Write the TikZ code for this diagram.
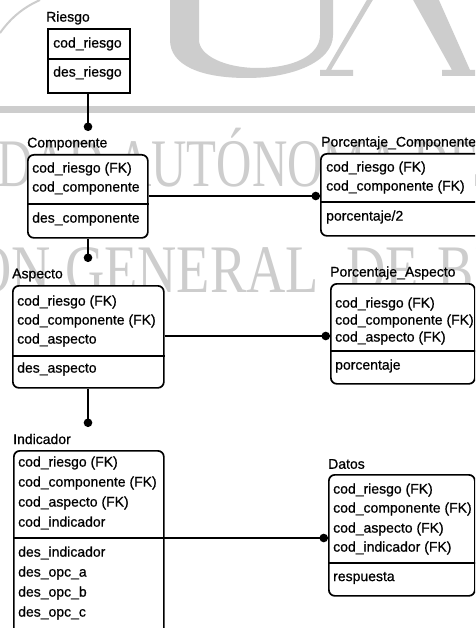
\documentclass[tikz,border=0pt]{standalone}
\usepackage{fontspec}
\setmainfont{Liberation Sans}
\newfontfamily\erfont{Liberation Sans}[RawFeature={embolden=0.7}]
\newfontfamily\wmfont{Liberation Serif}
\usetikzlibrary{arrows.meta}
\definecolor{wmgray}{RGB}{205,205,205}
\newcommand{\wmtext}[1]{\scalebox{0.72}[1]{#1}}
\newcommand{\wmtextb}[1]{\scalebox{0.8}[1]{#1}}
\begin{document}
\begin{tikzpicture}[x=1pt,y=-1pt,
  ent/.style={draw, line width=1.7pt, fill=white, rounded corners=6pt, inner sep=0pt, anchor=north west},
  entsq/.style={draw, line width=1.7pt, fill=white, inner sep=0pt, anchor=north west},
  attr/.style={anchor=west, inner sep=0pt, font=\erfont\fontsize{14}{16}\selectfont},
  ttl/.style={anchor=west, inner sep=0pt, font=\erfont\fontsize{14}{16}\selectfont},
  div/.style={line width=1.5pt},
  rel/.style={line width=1.5pt, -{Circle[length=8.5pt,width=8.5pt]}},
  wm/.style={text=wmgray, inner sep=0pt, anchor=base west, font=\wmfont\fontsize{68}{68}\selectfont},
  wmr/.style={wm, anchor=base east}
]
\useasboundingbox (0,0) rectangle (475,628);
\clip (0,0) rectangle (475,628);
\fill[white] (0,0) rectangle (475,628);

% ---- watermark ----
\draw[wmgray, line width=2pt] (0,33) .. controls (10,19) and (22,8) .. (40,0);
\fill[wmgray] (170,-2) -- (170,40) .. controls (170,65) and (200,78) .. (247,78)
  .. controls (292,78) and (333,62) .. (333,35) -- (333,-2) -- (320,-2) -- (320,35)
  .. controls (320,56) and (292,68) .. (258,68) .. controls (224,68) and (199,55) .. (199,40)
  -- (199,-2) -- cycle;
\fill[wmgray] (368,-2) -- (374,-2) -- (331,70) -- (353,70) -- (353,76) -- (320,76) -- (320,70) -- (326,70) -- cycle;
\fill[wmgray] (412,-2) -- (438,-2) -- (470,70) -- (478,70) -- (478,76) -- (442,76) -- (442,70) -- (452,70) -- cycle;
\fill[wmgray] (0,106) rectangle (475,113);
\node[wmr] (wm1a) at (116,187) {\wmtext{UNIVERSIDAD\ }};
\node[wm] (wm1b) at (116,187) {\wmtext{AUTÓNOMA DE NUEVO}};
\node[wmr] (wm2a) at (65,292) {\wmtextb{DIRECCIÓN\ }};
\node[wm] (wm2b) at (65,292) {\wmtextb{GENERAL\hspace{0.5em}DE\hspace{0.35em}BIBLIOTECAS}};

% ---- Riesgo ----
\node[ttl] (triesgo) at (46,18) {Riesgo};
\node[entsq, minimum width=82pt, minimum height=64pt] (riesgo) at (47,28) {};
\draw[div] (riesgo.west |- 0,59) -- (riesgo.east |- 0,59);
\node[attr] (r1) at (53,44) {cod\_riesgo};
\node[attr] (r2) at (53,73) {des\_riesgo};

% ---- Componente ----
\node[ttl] (tcomp) at (27,144) {Componente};
\node[ent, minimum width=120pt, minimum height=83pt] (comp) at (27,154) {};
\draw[div] (comp.west |- 0,204) -- (comp.east |- 0,204);
\node[attr] (c1) at (32,169) {cod\_riesgo (FK)};
\node[attr] (c2) at (32,188) {cod\_componente};
\node[attr] (c3) at (32,219) {des\_componente};

% ---- Porcentaje_Componente ----
\node[ttl] (tpc) at (321,143) {Porcentaje\_Componente};
\node[ent, minimum width=165pt, minimum height=82pt] (pc) at (320,153) {};
\draw[div] (pc.west |- 0,202) -- (pc.east |- 0,202);
\node[attr] (pc1) at (326,168) {cod\_riesgo (FK)};
\node[attr] (pc2) at (326,187) {cod\_componente (FK)};
\node[attr] (pc3) at (326,217) {porcentaje/2};

% ---- Aspecto ----
\node[ttl] (tasp) at (12,275) {Aspecto};
\node[ent, minimum width=151pt, minimum height=102pt] (asp) at (12,285) {};
\draw[div] (asp.west |- 0,356) -- (asp.east |- 0,356);
\node[attr] (a1) at (17,302) {cod\_riesgo (FK)};
\node[attr] (a2) at (17,321) {cod\_componente (FK)};
\node[attr] (a3) at (17,340) {cod\_aspecto};
\node[attr] (a4) at (17,369) {des\_aspecto};

% ---- Porcentaje_Aspecto ----
\node[ttl] (tpa) at (330,273) {Porcentaje\_Aspecto};
\node[ent, minimum width=144pt, minimum height=100pt] (pa) at (330,283) {};
\draw[div] (pa.west |- 0,351) -- (pa.east |- 0,351);
\node[attr] (pa1) at (335,304) {cod\_riesgo (FK)};
\node[attr] (pa2) at (335,321) {cod\_componente (FK)};
\node[attr] (pa3) at (335,338) {cod\_aspecto (FK)};
\node[attr] (pa4) at (335,366) {porcentaje};

% ---- Indicador ----
\node[ttl] (tind) at (13,439) {Indicador};
\node[ent, minimum width=150pt, minimum height=190pt] (ind) at (13,450) {};
\draw[div] (ind.west |- 0,538) -- (ind.east |- 0,538);
\node[attr] (i1) at (18,463) {cod\_riesgo (FK)};
\node[attr] (i2) at (18,483) {cod\_componente (FK)};
\node[attr] (i3) at (18,503) {cod\_aspecto (FK)};
\node[attr] (i4) at (18,523) {cod\_indicador};
\node[attr] (i5) at (18,553) {des\_indicador};
\node[attr] (i6) at (18,573) {des\_opc\_a};
\node[attr] (i7) at (18,593) {des\_opc\_b};
\node[attr] (i8) at (18,613) {des\_opc\_c};

% ---- Datos ----
\node[ttl] (tdat) at (328,464) {Datos};
\node[ent, minimum width=146pt, minimum height=121pt] (dat) at (328,474) {};
\draw[div] (dat.west |- 0,563) -- (dat.east |- 0,563);
\node[attr] (d1) at (333,490) {cod\_riesgo (FK)};
\node[attr] (d2) at (333,509) {cod\_componente (FK)};
\node[attr] (d3) at (333,529) {cod\_aspecto (FK)};
\node[attr] (d4) at (333,548) {cod\_indicador (FK)};
\node[attr] (d5) at (333,578) {respuesta};

% ---- connectors ----
\coordinate (e1) at (88,131);
\coordinate (e2) at (88,262);
\coordinate (e3) at (88,427);
\draw[rel] (riesgo.south -| e1) -- (e1);
\draw[rel] (comp.south -| e2) -- (e2);
\draw[rel] (asp.south -| e3) -- (e3);
\draw[rel] (comp.east |- 0,196) -- (pc.west |- 0,196);
\draw[rel] (asp.east |- 0,336) -- (pa.west |- 0,336);
\draw[rel] (ind.east |- 0,538) -- (dat.west |- 0,538);
\end{tikzpicture}
\end{document}
